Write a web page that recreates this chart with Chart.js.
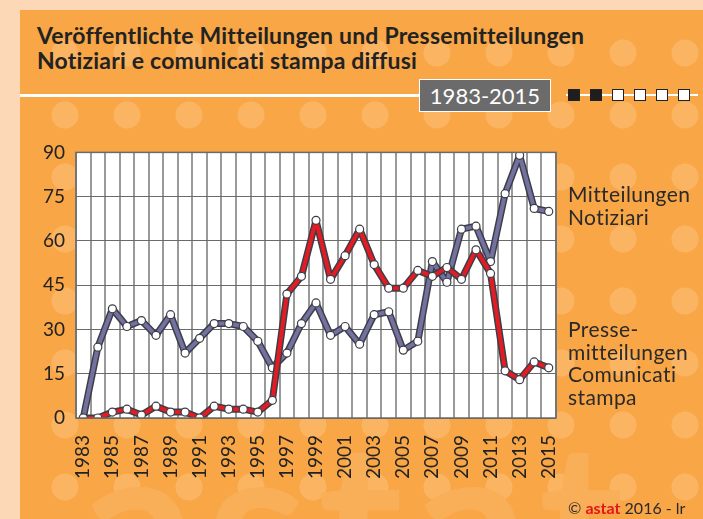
<!DOCTYPE html>
<html>
<head>
<meta charset="UTF-8">
<title>Mitteilungen / Notiziari 1983-2015</title>
<style>
    html, body { margin: 0; padding: 0; }
    body {
        width: 703px; height: 519px; overflow: hidden; position: relative;
        background: #fdd8b6;
        font-family: Lato, "Open Sans", sans-serif;
        color: #2a2a2a;
    }
    #panel {
        position: absolute; left: 20px; top: 10px; width: 683px; height: 509px;
        background-color: #f8a646;
        background-image: radial-gradient(circle, #fab462 13px, transparent 14px);
        background-size: 62px 62px;
        background-position: 14px 12px;
        overflow: hidden;
    }
    #watermark {
        position: absolute; left: 60px; top: 370px;
        font: bold 230px Lato, sans-serif; color: #f9ae58; letter-spacing: 10px;
    }
    .title {
        position: absolute; left: 37px; font-weight: bold; font-size: 23px; color: #222;
        letter-spacing: 0.2px; white-space: nowrap;
    }
    #rule { position: absolute; left: 20px; top: 94px; width: 400px; height: 3px; background: #fff; }
    #range {
        position: absolute; left: 419px; top: 79px; width: 130px; height: 31px;
        background: #6b6b6b; border: 1px solid #fff; color: #fff;
        font-size: 22px; line-height: 31px; text-align: center;
    }
    #dots { position: absolute; left: 566px; top: 88px; width: 135px; height: 14px; }
    #dots .ln { position: absolute; left: 0; top: 6px; width: 132px; height: 2px; background: #fff; }
    #dots .sq {
        position: absolute; top: 1px; width: 10px; height: 10px; border: 1px solid #222; background: #fff;
    }
    #dots .sq.on { background: #1e1e1e; }
    .side {
        position: absolute; left: 568px; font-size: 21px; line-height: 22.5px; color: #2a2a2a;
        letter-spacing: 0.4px; white-space: nowrap;
    }
    #foot { position: absolute; left: 568px; top: 498px; font-size: 16px; color: #2a2a2a; white-space: nowrap; }
    #foot b { color: #e3161d; }
    #chartBox { position: absolute; left: 0; top: 130px; width: 703px; height: 389px; }
</style>
<script src="https://cdn.jsdelivr.net/npm/chart.js"></script>
</head>
<body>
<div id="panel"><div id="watermark">astat</div></div>
<div class="title" style="top:21px">Veröffentlichte Mitteilungen und Pressemitteilungen</div>
<div class="title" style="top:46px">Notiziari e comunicati stampa diffusi</div>
<div id="rule"></div>
<div id="range">1983-2015</div>
<div id="dots">
    <div class="ln"></div>
    <div class="sq on" style="left:2px"></div>
    <div class="sq on" style="left:24px"></div>
    <div class="sq" style="left:46px"></div>
    <div class="sq" style="left:68px"></div>
    <div class="sq" style="left:90px"></div>
    <div class="sq" style="left:112px"></div>
</div>
<div id="chartBox"><canvas id="lineChart"></canvas></div>
<div class="side" style="top:183px">Mitteilungen<br>Notiziari</div>
<div class="side" style="top:318px">Presse-<br>mitteilungen<br>Comunicati<br>stampa</div>
<div id="foot">© <b>astat</b> 2016 - lr</div>

<script>
    // years 1983..2015
    const years = ['1983', '1984', '1985', '1986', '1987', '1988', '1989', '1990', '1991', '1992', '1993',
        '1994', '1995', '1996', '1997', '1998', '1999', '2000', '2001', '2002', '2003', '2004',
        '2005', '2006', '2007', '2008', '2009', '2010', '2011', '2012', '2013', '2014', '2015'];

    // Mitteilungen / Notiziari
    const mitteilungen = [0, 24, 37, 31, 33, 28, 35, 22, 27, 32, 32,
        31, 26, 17, 22, 32, 39, 28, 31, 25, 35, 36,
        23, 26, 53, 46, 64, 65, 53, 76, 89, 71, 70];

    // Pressemitteilungen / Comunicati stampa
    const presse = [0, 0, 2, 3, 1, 4, 2, 2, 0, 4, 3,
        3, 2, 6, 42, 48, 67, 47, 55, 64, 52, 44,
        44, 50, 48, 51, 47, 57, 49, 16, 13, 19, 17];

    const yTicks = [0, 15, 30, 45, 60, 75, 90];

    const purple = '#7371a0';
    const red = '#e31b23';
    const edge = '#3d3d48';

    // white plot background + frame
    const plotBg = {
        id: 'plotBg',
        beforeDraw(chart) {
            const a = chart.chartArea, c = chart.ctx;
            c.save();
            c.fillStyle = '#fff';
            c.fillRect(a.left, a.top, a.right - a.left, a.bottom - a.top);
            c.restore();
        },
        afterDatasetsDraw(chart) {
            const a = chart.chartArea, c = chart.ctx;
            c.save();
            c.strokeStyle = '#6a6a6a';
            c.lineWidth = 1.5;
            c.strokeRect(a.left, a.top, a.right - a.left, a.bottom - a.top);
            c.restore();
        }
    };

    function outline(data, ord) {
        return {
            data: data, borderColor: edge, borderWidth: 7, borderJoinStyle: 'round',
            pointRadius: 0, tension: 0, order: ord
        };
    }
    function series(data, color, ord) {
        return {
            data: data, borderColor: color, borderWidth: 4, borderJoinStyle: 'round', tension: 0, order: ord,
            pointRadius: 4, pointBackgroundColor: '#fff', pointBorderColor: edge, pointBorderWidth: 1.2
        };
    }

    const ctx = document.getElementById('lineChart');
    new Chart(ctx, {
        type: 'line',
        data: {
            labels: years,
            datasets: [
                series(presse, red, 0),
                outline(presse, 1),
                series(mitteilungen, purple, 2),
                outline(mitteilungen, 3)
            ]
        },
        options: {
            responsive: true,
            maintainAspectRatio: false,
            animation: false,
            layout: { padding: { top: 18, right: 147 } },
            plugins: { legend: { display: false }, tooltip: { enabled: false } },
            scales: {
                x: {
                    offset: true,
                    grid: { offset: true, color: '#9a9a9a', lineWidth: 2, drawTicks: false },
                    border: { display: false },
                    afterFit(scale) { scale.height = 101; },
                    ticks: {
                        autoSkip: false, minRotation: 90, maxRotation: 90, padding: 17,
                        color: '#222', font: { family: 'Lato', size: 19 },
                        callback: function (v, i) { return i % 2 === 0 ? years[i] : ''; }
                    }
                },
                y: {
                    min: 0, max: 90,
                    afterFit(scale) { scale.width = 76; },
                    afterBuildTicks(scale) { scale.ticks = yTicks.map(v => ({ value: v })); },
                    grid: { color: '#6a6a6a', lineWidth: 1, drawTicks: false },
                    border: { display: false },
                    ticks: { padding: 11, color: '#222', font: { family: 'Lato', size: 19 } }
                }
            }
        },
        plugins: [plotBg]
    });
</script>
</body>
</html>
